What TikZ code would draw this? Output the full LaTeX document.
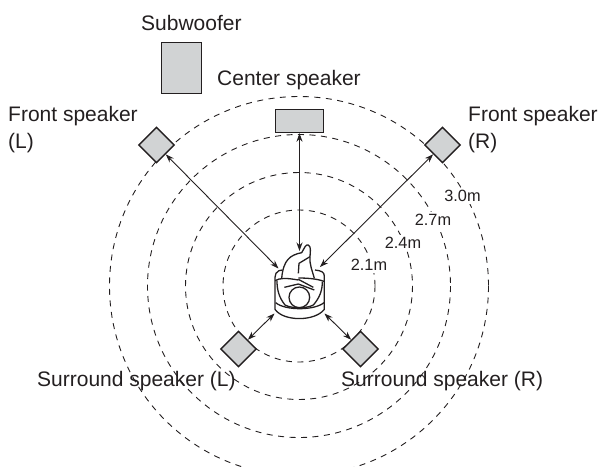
\documentclass[tikz,border=0pt]{standalone}
\usepackage{fontspec}
\setmainfont{Liberation Sans}
\usetikzlibrary{arrows.meta}
\tikzset{>={Stealth[length=8.5pt,width=6pt]}}
\definecolor{BoxGrey}{HTML}{D1D3D4}
\definecolor{InkDark}{HTML}{231F20}
\newcommand{\labelfont}{\fontsize{21}{26.5}\selectfont}
\newcommand{\distfont}{\fontsize{16.3}{19}\selectfont}
\tikzset{
  box/.style={draw=InkDark, fill=BoxGrey, line width=1.4pt, inner sep=0pt},
  speaker/.style={box, minimum size=25pt, rotate=45},
  labeltext/.style={font=\labelfont, text=InkDark, inner sep=0pt, anchor=west, align=left},
  disttext/.style={font=\distfont, text=InkDark, inner sep=2pt, fill=white},
  ring/.style={draw=InkDark, line width=0.9pt, dash pattern=on 6pt off 5.5pt},
  link/.style={draw=InkDark, line width=0.9pt, <->}
}
\begin{document}
\begin{tikzpicture}[x=1pt,y=-1pt]
  \useasboundingbox (0,0) rectangle (599,466);
  \clip (0,0) rectangle (599,466);
  \foreach \rad in {76,113.5,151.5,189.5}{
    \draw[ring] (299,286) circle (\rad);
  }
  \node[box, minimum width=40pt, minimum height=51pt] (sub) at (181.5,68) {};
  \node[box, minimum width=48pt, minimum height=23pt] (center) at (299.5,121) {};
  \node[speaker] (frontL) at (156.5,145) {};
  \node[speaker] (frontR) at (442.5,145) {};
  \node[speaker] (surrL) at (238.5,349) {};
  \node[speaker] (surrR) at (360.5,349) {};
  % listener
  \coordinate (foot) at (299.5,251);
  \coordinate (kneeL) at (278.5,268.5);
  \coordinate (kneeR) at (320,267);
  \coordinate (seatL) at (274.5,313.5);
  \coordinate (seatR) at (324.5,313.5);
  \draw[link] (center) -- (foot);
  \draw[link] (frontL) -- (kneeL);
  \draw[link] (frontR) -- (kneeR);
  \draw[link] (surrL) -- (seatL);
  \draw[link] (surrR) -- (seatR);
  \begin{scope}[shift={(265,240)}, x=0.3333pt, y=-0.3333pt, draw=InkDark, line width=1.3pt, line join=round]
    \draw (52,90) -- (42,92) .. controls (34,96) and (30,102) .. (30,112) -- (30,208)
      .. controls (55,245) and (150,245) .. (178,208) -- (178,108)
      .. controls (178,96) and (168,92) .. (150,90);
    \draw (32,188) .. controls (60,212) and (148,212) .. (177,188);
    \draw (30,122) .. controls (45,114) and (60,113) .. (100,120);
    \draw (100,114) .. controls (125,114) and (155,116) .. (177,124);
    \draw (36,122) .. controls (36,150) and (42,172) .. (60,195) .. controls (80,206) and (125,206) .. (145,195)
      .. controls (165,172) and (172,150) .. (172,125);
    \draw (50,115) .. controls (55,60) and (75,45) .. (110,38)
      .. controls (118,25) and (122,12) .. (130,15) .. controls (140,20) and (135,40) .. (135,50)
      .. controls (133,75) and (143,95) .. (148,115);
    \draw (100,100) -- (102,70) -- (135,50);
    \draw (58,142) -- (100,132) (100,118) -- (145,142) (100,132) -- (148,150);
    \draw (103,172) circle (31);
  \end{scope}
  \node[labeltext] (sublabel) at (141,23) {Subwoofer};
  \node[labeltext] (centerlabel) at (217,80) {Center speaker};
  \node[labeltext] (frontLlabel) at (8,129.5) {Front speaker\\(L)};
  \node[labeltext] (frontRlabel) at (468,129.5) {Front speaker\\(R)};
  \node[labeltext] (surrLlabel) at (37,381) {Surround speaker (L)};
  \node[labeltext] (surrRlabel) at (341,381) {Surround speaker (R)};
  \node[disttext] (d30) at (462.5,196) {3.0m};
  \node[disttext] (d27) at (433,220) {2.7m};
  \node[disttext] (d24) at (403,243) {2.4m};
  \node[disttext] (d21) at (369,265) {2.1m};
\end{tikzpicture}
\end{document}
